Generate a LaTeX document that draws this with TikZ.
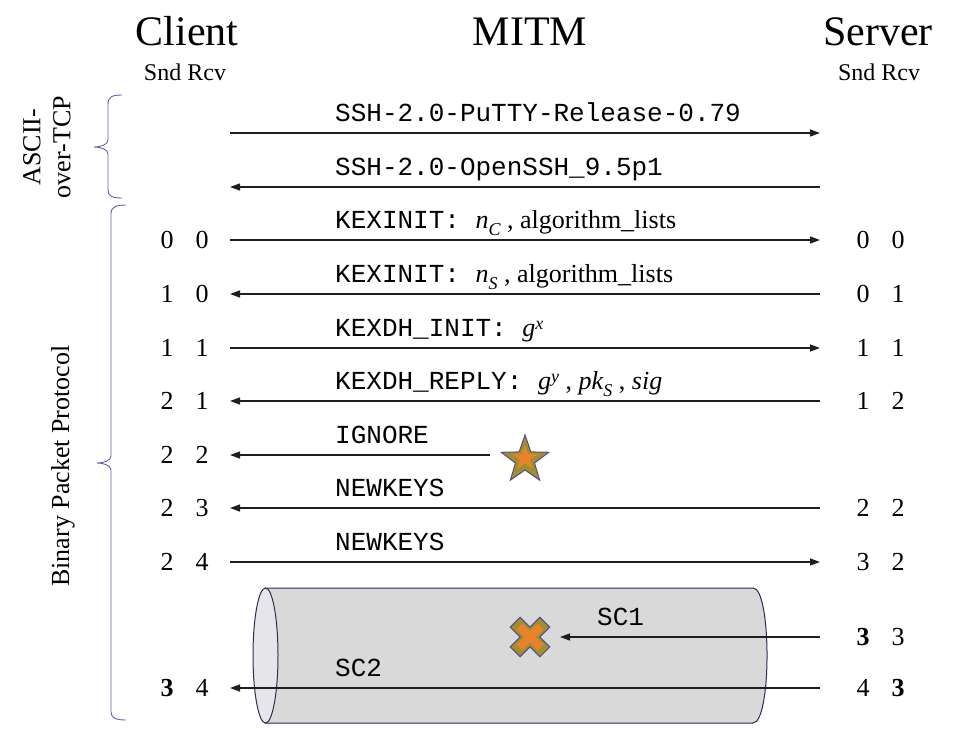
\documentclass[tikz,border=0pt]{standalone}
\usepackage{fontspec}
\setmainfont{Liberation Serif}
\setmonofont{Liberation Mono}
\usetikzlibrary{arrows.meta,shapes.geometric}
\definecolor{brc}{HTML}{6262B0}
\definecolor{linec}{HTML}{1E1E1E}
\definecolor{olivec}{HTML}{A08F30}
\definecolor{orangec}{HTML}{EA822C}
\definecolor{purpc}{HTML}{5A4A8E}
\definecolor{cylfill}{HTML}{D9D9D9}
\definecolor{cylend}{HTML}{E6E6EA}
\definecolor{cyledge}{HTML}{2B2D50}
\newcommand{\lowsub}[1]{\raisebox{-7pt}{\fontsize{18}{18}\selectfont\itshape #1}}
\newcommand{\highsup}[1]{\raisebox{6.5pt}{\fontsize{18}{18}\selectfont\itshape #1}}
\begin{document}
\begin{tikzpicture}[x=1pt,y=-1pt,
  title/.style={font=\fontsize{42}{48}\selectfont, anchor=base, inner sep=0pt},
  sub/.style={font=\fontsize{24}{28}\selectfont, anchor=base, inner sep=0pt},
  num/.style={font=\fontsize{26}{30}\selectfont, anchor=base, inner sep=0pt},
  lbl/.style={font=\fontsize{26}{30}\selectfont, anchor=base west, inner sep=0pt},
  msg/.style={draw=linec, line width=1.3pt, -{Triangle[length=10pt,width=7pt]}},
  bracepath/.style={draw=brc, line width=0.9pt},
  side/.style={font=\fontsize{26}{30}\selectfont, rotate=90, align=center, inner sep=0pt}]
\useasboundingbox (0,0) rectangle (958,747);

% titles
\node[title] (tc) at (187,45) {Client};
\node[title] (tm) at (530,45) {MITM};
\node[title] (ts) at (878,45) {Server};
\node[sub] (sc) at (185,80) {Snd Rcv};
\node[sub] (ss) at (879,80) {Snd Rcv};

% side labels
\node[side] (ascii) at (47,147) {ASCII-\\over-TCP};
\node[side] (bpp) at (63,466) {Binary Packet Protocol};

% braces
\draw[bracepath] (122,95) .. controls (112,95) and (108,97) .. (108,104) -- (108,140)
  .. controls (108,145) and (100,147) .. (94,147) .. controls (100,147) and (108,149) .. (108,154)
  -- (108,190) .. controls (108,196) and (112,198) .. (122,198);
\draw[bracepath] (126,205) .. controls (116,205) and (111,207) .. (111,214) -- (111,456)
  .. controls (111,461) and (103,463) .. (97,463) .. controls (103,463) and (111,465) .. (111,470)
  -- (111,712) .. controls (111,718) and (116,720) .. (126,720);

% cylinder
\draw[fill=cylfill, draw=cyledge, line width=1pt] (265,588) -- (753,588)
  .. controls (771.7,588) and (771.7,723) .. (753,723) -- (265,723) -- cycle;
\draw[fill=cylend, draw=cyledge, line width=1pt] (265.5,655.5) ellipse [x radius=12.5, y radius=67.5];

% coordinates
\foreach \n/\y in {1/133,2/187,3/240,4/294,5/348,6/401,7/455,8/508,9/562,10/637,11/688}{
  \coordinate (L\n) at (230,\y);
  \coordinate (R\n) at (820,\y);
}
\coordinate (M7) at (490,455);
\coordinate (M10) at (560,637);

% messages
\draw[msg] (L1) -- (R1);
\draw[msg] (R2) -- (L2);
\draw[msg] (L3) -- (R3);
\draw[msg] (R4) -- (L4);
\draw[msg] (L5) -- (R5);
\draw[msg] (R6) -- (L6);
\draw[msg] (M7) -- (L7);
\draw[msg] (R8) -- (L8);
\draw[msg] (L9) -- (R9);
\draw[msg] (R10) -- (M10);
\draw[msg] (R11) -- (L11);

% labels
\node[lbl] (m1) at (335,121) {\texttt{SSH-2.0-PuTTY-Release-0.79}};
\node[lbl] (m2) at (335,175) {\texttt{SSH-2.0-OpenSSH\_9.5p1}};
\node[lbl] (m3) at (335,228) {\texttt{KEXINIT:~}\textit{n}\lowsub{C} , algorithm\_lists};
\node[lbl] (m4) at (335,282) {\texttt{KEXINIT:~}\textit{n}\lowsub{S} , algorithm\_lists};
\node[lbl] (m5) at (335,336) {\texttt{KEXDH\_INIT:~}\textit{g}\highsup{x}};
\node[lbl] (m6) at (335,389) {\texttt{KEXDH\_REPLY:~}\textit{g}\highsup{y} , \textit{pk}\lowsub{S} , \textit{sig}};
\node[lbl] (m7) at (335,443) {\texttt{IGNORE}};
\node[lbl] (m8) at (335,496) {\texttt{NEWKEYS}};
\node[lbl] (m9) at (335,550) {\texttt{NEWKEYS}};
\node[lbl] (m10) at (597,625) {\texttt{SC1}};
\node[lbl] (m11) at (335,676) {\texttt{SC2}};

% counters client
\node[num] (c3a) at (167,248) {0}; \node[num] (c3b) at (202,248) {0};
\node[num] (c4a) at (167,302) {1}; \node[num] (c4b) at (202,302) {0};
\node[num] (c5a) at (167,356) {1}; \node[num] (c5b) at (202,356) {1};
\node[num] (c6a) at (167,409) {2}; \node[num] (c6b) at (202,409) {1};
\node[num] (c7a) at (167,463) {2}; \node[num] (c7b) at (202,463) {2};
\node[num] (c8a) at (167,516) {2}; \node[num] (c8b) at (202,516) {3};
\node[num] (c9a) at (167,570) {2}; \node[num] (c9b) at (202,570) {4};
\node[num] (c11a) at (167,696) {\textbf{3}}; \node[num] (c11b) at (202,696) {4};
% counters server
\node[num] (s3a) at (863,248) {0}; \node[num] (s3b) at (898,248) {0};
\node[num] (s4a) at (863,302) {0}; \node[num] (s4b) at (898,302) {1};
\node[num] (s5a) at (863,356) {1}; \node[num] (s5b) at (898,356) {1};
\node[num] (s6a) at (863,409) {1}; \node[num] (s6b) at (898,409) {2};
\node[num] (s8a) at (863,516) {2}; \node[num] (s8b) at (898,516) {2};
\node[num] (s9a) at (863,570) {3}; \node[num] (s9b) at (898,570) {2};
\node[num] (s10a) at (863,645) {\textbf{3}}; \node[num] (s10b) at (898,645) {3};
\node[num] (s11a) at (863,696) {4}; \node[num] (s11b) at (898,696) {\textbf{3}};

% star
\node[star, star points=5, star point ratio=2.5, minimum size=50pt, inner sep=0pt,
      fill=olivec, draw=purpc, line width=1pt] (star) at (525,460) {};
\node[star, star points=5, star point ratio=2.5, minimum size=26pt, inner sep=0pt,
      fill=orangec] (starin) at (525,458) {};

% cross
\begin{scope}[shift={(530,637)}, rotate=45]
  \draw[fill=olivec, draw=purpc, line width=1pt]
    (-7,21) -- (7,21) -- (7,7) -- (21,7) -- (21,-7) -- (7,-7) -- (7,-21) -- (-7,-21)
    -- (-7,-7) -- (-21,-7) -- (-21,7) -- (-7,7) -- cycle;
  \fill[orangec]
    (-4,15) -- (4,15) -- (4,4) -- (15,4) -- (15,-4) -- (4,-4) -- (4,-15) -- (-4,-15)
    -- (-4,-4) -- (-15,-4) -- (-15,4) -- (-4,4) -- cycle;
\end{scope}
\end{tikzpicture}
\end{document}
